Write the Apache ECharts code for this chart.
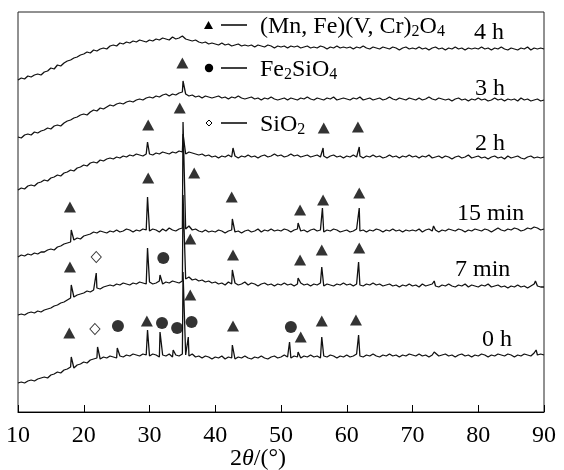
<!DOCTYPE html>
<html>
<head>
<meta charset="utf-8">
<script src="https://cdn.jsdelivr.net/npm/echarts@6/dist/echarts.min.js"></script>
<style>
  html, body { margin: 0; padding: 0; background: #fff; }
  #chart { width: 564px; height: 470px; }
</style>
</head>
<body>
<div id="chart"></div>
<script>
// XRD patterns (offset intensity, arbitrary units) sampled every 0.5° from 10° to 90° 2θ
const angleStart = 10;
const angleStep = 0.5;

const base4h = [
  332, 334, 333, 336, 335, 337, 338, 337, 340, 341,
  344, 343, 347, 346, 349, 351, 352, 354, 355, 357,
  358, 360, 359, 362, 361, 363, 364, 363, 366, 367,
  366, 369, 368, 370, 369, 371, 370, 372, 371, 370,
  372, 371, 373, 372, 374, 373, 372, 375, 373, 374,
  376, 373, 372, 371, 372, 370, 369, 370, 368, 369,
  368, 367, 369, 367, 368, 366, 367, 368, 366, 367,
  366, 367, 365, 367, 366, 365, 367, 366, 364, 366,
  365, 366, 364, 366, 365, 366, 364, 365, 366, 364,
  365, 364, 366, 365, 363, 365, 364, 366, 364, 365,
  364, 365, 363, 365, 364, 366, 364, 363, 365, 364,
  363, 365, 364, 363, 365, 364, 362, 364, 365, 363,
  364, 363, 365, 363, 364, 362, 364, 365, 363, 364,
  362, 364, 363, 365, 363, 364, 362, 364, 363, 364,
  363, 365, 363, 364, 362, 364, 363, 365, 363, 362,
  364, 363, 362, 364, 363, 365, 362, 364, 363, 364,
  363
];
const peaks4h = [];

const base3h = [
  275, 274, 277, 278, 277, 280, 279, 281, 282, 284,
  283, 286, 287, 286, 289, 291, 292, 294, 295, 297,
  298, 297, 300, 302, 301, 304, 303, 305, 307, 306,
  308, 309, 308, 310, 311, 310, 312, 313, 312, 314,
  315, 314, 316, 315, 317, 318, 316, 318, 317, 319,
  320, 318, 316, 317, 315, 316, 314, 316, 315, 314,
  315, 316, 314, 315, 313, 315, 314, 316, 314, 313,
  314, 315, 313, 314, 312, 314, 313, 315, 313, 312,
  313, 314, 312, 314, 313, 312, 314, 313, 315, 313,
  312, 314, 313, 312, 314, 313, 315, 312, 313, 314,
  313, 312, 314, 313, 315, 312, 313, 314, 312, 313,
  314, 312, 313, 315, 313, 312, 314, 313, 312, 314,
  313, 312, 314, 312, 313, 315, 313, 312, 314, 313,
  312, 313, 311, 313, 314, 312, 313, 311, 313, 312,
  314, 312, 313, 311, 312, 314, 312, 313, 311, 313,
  312, 313, 311, 314, 312, 313, 311, 312, 313, 311,
  312
];
const peaks3h = [[35.1, 331]];

const base2h = [
  222, 224, 223, 226, 227, 226, 229, 230, 232, 231,
  234, 235, 237, 236, 239, 240, 242, 241, 244, 245,
  247, 246, 249, 250, 249, 252, 251, 253, 254, 253,
  255, 254, 256, 255, 257, 256, 258, 257, 256, 258,
  258, 257, 259, 258, 260, 259, 258, 260, 259, 261,
  260, 258, 260, 259, 258, 257, 258, 256, 257, 255,
  256, 254, 256, 255, 257, 255, 256, 254, 256, 255,
  257, 255, 256, 254, 256, 257, 255, 256, 258, 256,
  257, 255, 256, 258, 256, 257, 255, 256, 257, 255,
  256, 257, 255, 256, 254, 256, 257, 255, 256, 254,
  256, 255, 257, 255, 256, 254, 256, 255, 257, 255,
  256, 254, 255, 257, 255, 256, 254, 256, 255, 257,
  255, 256, 254, 256, 255, 257, 254, 255, 256, 254,
  256, 255, 253, 255, 256, 254, 255, 257, 254, 255,
  256, 254, 255, 253, 255, 256, 254, 255, 253, 256,
  254, 255, 256, 254, 253, 255, 256, 254, 255, 254,
  255
];
const peaks2h = [[29.7, 270], [35.1, 278], [42.7, 264], [56.4, 264], [61.9, 265]];

const base15min = [
  155, 157, 156, 158, 157, 159, 158, 160, 160, 162,
  163, 162, 165, 166, 168, 169, 170, 172, 174, 173,
  176, 177, 178, 180, 179, 181, 180, 179, 181, 180,
  182, 180, 181, 183, 182, 180, 182, 181, 183, 182,
  181, 183, 182, 180, 183, 181, 184, 182, 181, 183,
  184, 183, 186, 182, 183, 181, 180, 182, 180, 181,
  180, 182, 181, 179, 181, 182, 180, 181, 179, 181,
  182, 180, 181, 183, 180, 182, 181, 183, 181, 182,
  181, 183, 182, 180, 182, 183, 181, 182, 180, 182,
  183, 181, 182, 180, 182, 181, 183, 182, 180, 181,
  182, 180, 181, 183, 181, 182, 180, 182, 181, 183,
  182, 180, 182, 181, 183, 181, 182, 180, 182, 181,
  182, 181, 183, 180, 182, 183, 181, 182, 180, 182,
  181, 183, 182, 181, 183, 182, 180, 182, 181, 183,
  182, 181, 183, 182, 180, 182, 184, 182, 181, 183,
  182, 184, 183, 181, 182, 184, 183, 185, 184, 182,
  183
];
const peaks15min = [[18.1, 182], [29.7, 215], [35.1, 290], [42.6, 193], [52.6, 189], [56.3, 204], [61.9, 204], [73.2, 186], [88.8, 187]];

const base7min = [
  97, 98, 97, 99, 100, 99, 101, 100, 102, 103,
  104, 106, 107, 109, 110, 112, 114, 115, 117, 118,
  119, 121, 120, 122, 124, 123, 125, 126, 127, 126,
  128, 127, 129, 128, 127, 129, 128, 130, 129, 128,
  130, 128, 129, 131, 128, 130, 129, 131, 130, 129,
  131, 133, 135, 132, 133, 131, 132, 130, 131, 129,
  130, 128, 129, 127, 130, 128, 129, 127, 128, 130,
  127, 129, 128, 126, 128, 129, 127, 128, 126, 128,
  127, 129, 127, 128, 126, 128, 129, 127, 128, 126,
  128, 127, 129, 126, 128, 127, 126, 128, 127, 129,
  127, 128, 126, 128, 127, 126, 128, 127, 129, 127,
  128, 126, 127, 128, 126, 127, 125, 127, 126, 128,
  126, 127, 125, 128, 126, 127, 128, 126, 125, 127,
  126, 128, 126, 125, 127, 126, 128, 125, 127, 126,
  125, 127, 126, 128, 125, 126, 127, 125, 126, 124,
  126, 125, 127, 125, 126, 124, 126, 128, 126, 125,
  125
];
const peaks7min = [[18.1, 127], [21.9, 139], [29.7, 164], [31.6, 137], [35.1, 217], [42.6, 142], [52.6, 134], [56.2, 145], [61.8, 150], [65.2, 130], [73.3, 131], [88.7, 131]];

const base0h = [
  29, 30, 29, 31, 32, 31, 33, 34, 35, 34,
  37, 38, 40, 39, 42, 43, 45, 44, 47, 48,
  50, 49, 52, 53, 54, 53, 55, 54, 56, 55,
  54, 56, 55, 57, 56, 58, 57, 56, 58, 57,
  56, 58, 57, 55, 57, 56, 58, 55, 57, 56,
  58, 57, 56, 58, 55, 56, 54, 56, 55, 53,
  55, 54, 56, 53, 55, 54, 53, 55, 54, 56,
  54, 53, 55, 54, 56, 54, 53, 55, 56, 54,
  55, 57, 55, 54, 56, 55, 54, 56, 55, 57,
  55, 56, 54, 56, 55, 57, 56, 54, 56, 55,
  57, 55, 56, 58, 56, 55, 57, 56, 58, 56,
  55, 57, 56, 58, 56, 57, 55, 57, 56, 58,
  57, 56, 58, 56, 57, 55, 57, 58, 56, 57,
  58, 56, 57, 55, 57, 58, 56, 57, 55, 57,
  56, 58, 57, 55, 57, 56, 58, 57, 56, 58,
  57, 55, 57, 56, 58, 57, 56, 59, 57, 58,
  57
];
const peaks0h = [[18.1, 55], [22.1, 65], [25.1, 64], [29.7, 82], [31.6, 80], [33.6, 62], [35.1, 140], [35.9, 75], [42.6, 67], [51.3, 70], [52.6, 60], [56.2, 75], [61.8, 77], [73.3, 60], [88.8, 62]];

const traceNames = ['4 h', '3 h', '2 h', '15 min', '7 min', '0 h'];

// Phase identification marks [2θ, offset intensity]
const spinelMarks = [
  [35.0, 349],
  [29.8, 287], [34.6, 304], [56.5, 284], [61.7, 285],
  [17.9, 205], [29.8, 234], [36.8, 239], [42.5, 215], [52.9, 202], [56.4, 212], [61.9, 219],
  [17.9, 145], [36.2, 173], [42.7, 157], [52.9, 152], [56.2, 162], [61.9, 164],
  [17.8, 79], [29.6, 91], [36.2, 117], [42.7, 86], [53.0, 75], [56.2, 91], [61.4, 92]
];
const olivineMarks = [[32.1, 154], [25.2, 86], [31.9, 89], [34.2, 84], [36.4, 90], [51.5, 85]];
const quartzMarks = [[21.9, 155], [21.7, 83]];

const phaseNames = ['(Mn, Fe)(V, Cr){s|2}O{s|4}', 'Fe{s|2}SiO{s|4}', 'SiO{s|2}'];

function buildTrace(base, peaks) {
  const pts = base.map((v, i) => [angleStart + i * angleStep, v]);
  peaks.forEach(p => pts.push(p));
  pts.sort((a, b) => a[0] - b[0]);
  return pts;
}

const traces = [
  buildTrace(base4h, peaks4h),
  buildTrace(base3h, peaks3h),
  buildTrace(base2h, peaks2h),
  buildTrace(base15min, peaks15min),
  buildTrace(base7min, peaks7min),
  buildTrace(base0h, peaks0h)
];

const serif = '"Liberation Serif", "Times New Roman", serif';
const FS = 24;
const richSub = {
  m: { fontFamily: serif, fontSize: FS, color: '#000' },
  s: { fontFamily: serif, fontSize: 16, color: '#000', padding: [10, 0, 0, 0] }
};

const chart = echarts.init(document.getElementById('chart'), null, { renderer: 'canvas' });

const lineSeries = traces.map((data, i) => ({
  type: 'line',
  name: traceNames[i],
  data: data,
  showSymbol: false,
  symbol: 'none',
  smooth: false,
  animation: false,
  silent: true,
  lineStyle: { color: '#111', width: 1.3 },
  z: 2
}));

const markerSeries = [
  {
    type: 'scatter', data: spinelMarks, symbol: 'triangle', symbolSize: [12, 11],
    itemStyle: { color: '#000' }, animation: false, silent: true, z: 3
  },
  {
    type: 'scatter', data: olivineMarks, symbol: 'circle', symbolSize: 12,
    itemStyle: { color: '#000' }, animation: false, silent: true, z: 3
  },
  {
    type: 'scatter', data: quartzMarks, symbol: 'diamond', symbolSize: [10, 11],
    itemStyle: { color: '#fff', borderColor: '#000', borderWidth: 1 }, animation: false, silent: true, z: 3
  }
];

// Trace labels and phase key
const labelPos = [[474, 33], [475, 89], [475, 144], [457, 214], [455, 270], [482, 340]];
const graphics = traceNames.map((t, i) => ({
  type: 'text', x: labelPos[i][0], y: labelPos[i][1], z: 10,
  style: { text: t, font: FS + 'px ' + serif, fill: '#000', verticalAlign: 'middle', align: 'left' }
}));

const keyRows = [27, 70, 125];
phaseNames.forEach((t, i) => {
  graphics.push({
    type: 'line', z: 10,
    shape: { x1: 221, y1: keyRows[i] - 2, x2: 247, y2: keyRows[i] - 2 },
    style: { stroke: '#000', lineWidth: 1.5 }
  });
  graphics.push({
    type: 'text', x: 260, y: keyRows[i], z: 10,
    style: { text: t, rich: richSub, font: FS + 'px ' + serif, fill: '#000', verticalAlign: 'middle', align: 'left' }
  });
});
graphics.push({
  type: 'polygon', z: 10,
  shape: { points: [[204, 29], [208.5, 21], [213, 29]] },
  style: { fill: '#000' }
});
graphics.push({
  type: 'circle', z: 10,
  shape: { cx: 209, cy: 68, r: 4.2 },
  style: { fill: '#000' }
});
graphics.push({
  type: 'polygon', z: 10,
  shape: { points: [[209, 120], [212, 123], [209, 126], [206, 123]] },
  style: { fill: '#fff', stroke: '#000', lineWidth: 1 }
});

chart.setOption({
  animation: false,
  backgroundColor: '#fff',
  grid: {
    left: 18, right: 20, top: 12, bottom: 58,
    outerBoundsMode: 'none', containLabel: false,
    show: true, borderColor: '#222', borderWidth: 1, backgroundColor: 'transparent'
  },
  xAxis: {
    type: 'value', min: 10, max: 90, interval: 10,
    name: '{a|2}{i|θ}{a|/(°)}',
    nameLocation: 'middle', nameGap: 35, nameMoveOverlap: false,
    nameTextStyle: {
      padding: [0, 46, 0, 0],
      rich: {
        a: { fontFamily: serif, fontSize: FS, color: '#000' },
        i: { fontFamily: serif, fontSize: FS, fontStyle: 'italic', color: '#000' }
      }
    },
    axisLine: { show: true, lineStyle: { color: '#000', width: 1 } },
    axisTick: { show: true, inside: true, length: 7, lineStyle: { color: '#000', width: 1 } },
    axisLabel: { fontFamily: serif, fontSize: FS, color: '#000', margin: 12 },
    splitLine: { show: false }
  },
  yAxis: {
    type: 'value', min: 0, max: 400,
    axisLine: { show: false }, axisTick: { show: false },
    axisLabel: { show: false }, splitLine: { show: false }
  },
  series: lineSeries.concat(markerSeries),
  graphic: graphics
});
</script>
</body>
</html>
